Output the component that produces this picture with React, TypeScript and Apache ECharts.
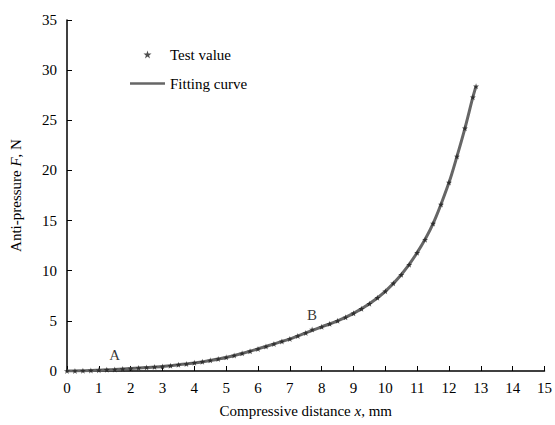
import React, { useEffect, useRef } from "react";
import * as echarts from "echarts";

const testX = [0, 0.25, 0.5, 0.75, 1.0, 1.25, 1.5, 1.75, 2.0, 2.25, 2.5, 2.75, 3.0, 3.25, 3.5, 3.75, 4.0, 4.25, 4.5, 4.75, 5.0, 5.25, 5.5, 5.75, 6.0, 6.25, 6.5, 6.75, 7.0, 7.25, 7.5, 7.7, 8.0, 8.25, 8.5, 8.75, 9.0, 9.25, 9.5, 9.75, 10.0, 10.25, 10.5, 10.75, 11.0, 11.25, 11.5, 11.75, 12.0, 12.25, 12.5, 12.75, 12.85];
const testY = [0.0, 0.01, 0.03, 0.05, 0.08, 0.12, 0.16, 0.2, 0.26, 0.3, 0.36, 0.4, 0.46, 0.53, 0.62, 0.7, 0.82, 0.92, 1.06, 1.2, 1.36, 1.55, 1.76, 1.96, 2.2, 2.45, 2.7, 2.95, 3.2, 3.5, 3.8, 4.15, 4.4, 4.7, 5.0, 5.35, 5.75, 6.2, 6.7, 7.3, 7.95, 8.75, 9.6, 10.6, 11.8, 13.1, 14.7, 16.6, 18.8, 21.4, 24.2, 27.3, 28.4];

const fitX = [0, 0.5, 1, 1.5, 2, 2.5, 3, 3.5, 4, 4.5, 5, 5.5, 6, 6.5, 7, 7.5, 8, 8.5, 9, 9.5, 10, 10.5, 11, 11.5, 12, 12.25, 12.5, 12.75, 12.85];
const fitY = [0, 0.02, 0.08, 0.15, 0.25, 0.35, 0.45, 0.62, 0.8, 1.05, 1.35, 1.75, 2.2, 2.7, 3.2, 3.8, 4.4, 5.0, 5.75, 6.7, 7.95, 9.6, 11.8, 14.7, 18.8, 21.4, 24.2, 27.3, 28.4];

const pointLabels = ["A", "B"];
const pointX = [1.5, 7.7];
const pointY = [0.16, 4.15];

const STAR = "path://M5,0 L6.2,3.8 L10,3.8 L7,6.2 L8.1,10 L5,7.6 L1.9,10 L3,6.2 L0,3.8 L3.8,3.8 Z";
const LINE_ICON = "path://M0,0 L40,0 L40,3 L0,3 Z";

export default function App() {
  const ref = useRef<HTMLDivElement>(null);
  useEffect(() => {
    if (!ref.current) return;
    const chart = echarts.init(ref.current, undefined, { renderer: "svg" });
    const font = "'Liberation Serif', 'DejaVu Serif', serif";
    chart.setOption({
      animation: false,
      backgroundColor: "#fff",
      textStyle: { fontFamily: font },
      grid: { left: 67, right: 10, top: 20, bottom: 54, containLabel: false },
      legend: {
        orient: "vertical",
        left: 125,
        top: 42,
        itemWidth: 35,
        itemHeight: 8,
        itemGap: 14,
        textStyle: { fontFamily: font, fontSize: 15, color: "#000" },
        data: [
          { name: "Test value", icon: STAR },
          { name: "Fitting curve", icon: LINE_ICON, itemStyle: { color: "#666" } },
        ],
      },
      xAxis: {
        type: "value",
        min: 0,
        max: 15,
        interval: 1,
        name: "Compressive distance {i|x}, mm",
        nameLocation: "middle",
        nameGap: 32,
        nameTextStyle: {
          fontFamily: font,
          fontSize: 15,
          color: "#000",
          rich: { i: { fontFamily: font, fontSize: 15, fontStyle: "italic", color: "#000" } },
        },
        axisLine: { lineStyle: { color: "#000", width: 1.5 } },
        axisTick: { inside: true, length: 5, lineStyle: { color: "#000" } },
        axisLabel: { fontFamily: font, fontSize: 15, color: "#000", margin: 9 },
        splitLine: { show: false },
      },
      yAxis: {
        type: "value",
        min: 0,
        max: 35,
        interval: 5,
        name: "Anti-pressure {i|F}, N",
        nameLocation: "middle",
        nameGap: 44,
        nameTextStyle: {
          fontFamily: font,
          fontSize: 15,
          color: "#000",
          rich: { i: { fontFamily: font, fontSize: 15, fontStyle: "italic", color: "#000" } },
        },
        axisLine: { show: true, lineStyle: { color: "#000", width: 1.5 } },
        axisTick: { show: true, inside: true, length: 5, lineStyle: { color: "#000" } },
        axisLabel: { fontFamily: font, fontSize: 15, color: "#000", margin: 10 },
        splitLine: { show: false },
      },
      series: [
        {
          name: "Fitting curve",
          type: "line",
          smooth: 0.3,
          symbol: "none",
          data: fitX.map((x, i) => [x, fitY[i]]),
          lineStyle: { color: "#666", width: 3 },
          itemStyle: { color: "#666" },
          z: 2,
        },
        {
          name: "Test value",
          type: "scatter",
          symbol: STAR,
          symbolSize: 6,
          data: testX.map((x, i) => [x, testY[i]]),
          itemStyle: { color: "#222" },
          z: 3,
        },
        {
          name: "labels",
          type: "scatter",
          symbol: "circle",
          symbolSize: 1,
          itemStyle: { color: "rgba(0,0,0,0)" },
          data: pointX.map((x, i) => ({ value: [x, pointY[i]], name: pointLabels[i] })),
          label: {
            show: true,
            formatter: "{b}",
            position: "top",
            distance: 6,
            fontFamily: font,
            fontSize: 15,
            color: "#000",
          },
          z: 4,
        },
      ],
    });
    return () => chart.dispose();
  }, []);
  return <div ref={ref} style={{ width: 555, height: 425, position: "absolute", left: 0, top: 0 }} />;
}
